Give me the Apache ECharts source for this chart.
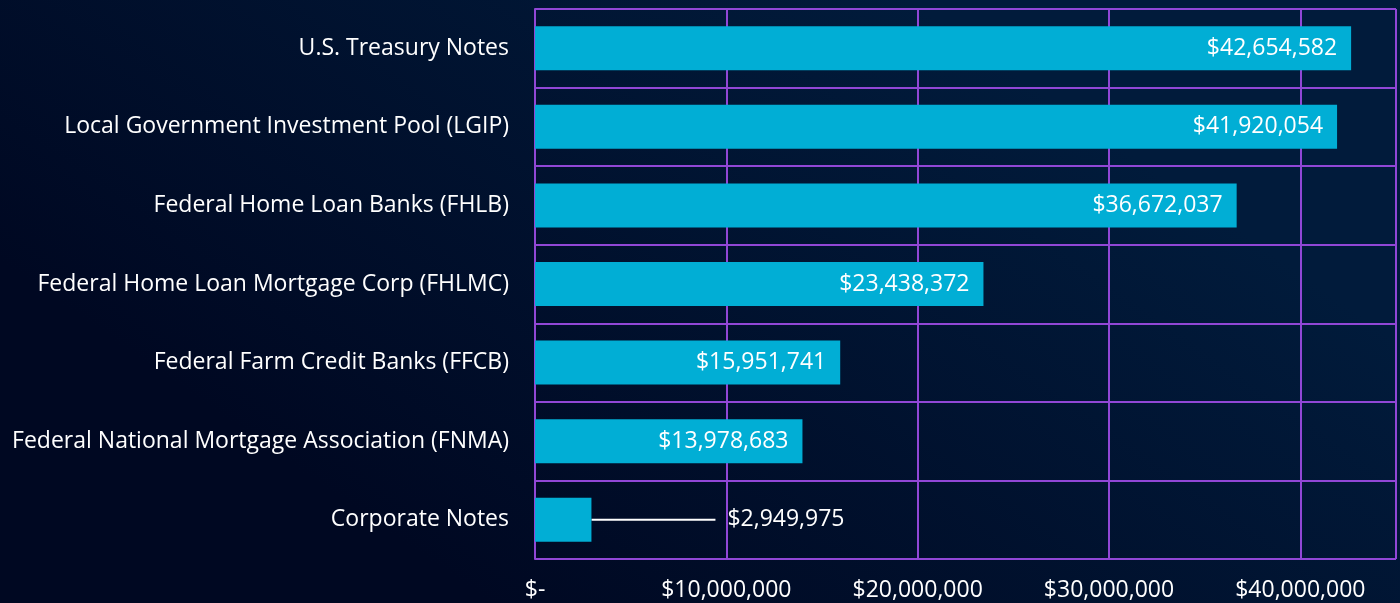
<!DOCTYPE html>
<html>
<head>
<meta charset="utf-8">
<style>
  html, body { margin: 0; padding: 0; }
  #chart { width: 1400px; height: 603px; }
</style>
<script src="https://cdn.jsdelivr.net/npm/echarts@6/dist/echarts.min.js"></script>
</head>
<body>
<div id="chart"></div>
<script>
// top to bottom as shown
const categories = [
    'U.S. Treasury Notes',
    'Local Government Investment Pool (LGIP)',
    'Federal Home Loan Banks (FHLB)',
    'Federal Home Loan Mortgage Corp (FHLMC)',
    'Federal Farm Credit Banks (FFCB)',
    'Federal National Mortgage Association (FNMA)',
    'Corporate Notes'
]
const values = [42654582, 41920054, 36672037, 23438372, 15951741, 13978683, 2949975]

const gridColor = '#9147d6'
const fmtMoney = v => '$' + v.toLocaleString('en-US')

const chart = echarts.init(document.getElementById('chart'))

const option = {
    backgroundColor: {
        type: 'linear', x: 0.65, y: 0, x2: 0.35, y2: 1,
        colorStops: [
            { offset: 0, color: '#011b3b' },
            { offset: 1, color: '#000822' }
        ]
    },
    textStyle: { fontFamily: 'Open Sans' },
    grid: { left: 535, right: 4, top: 9, bottom: 44 },
    xAxis: {
        type: 'value',
        min: 0,
        max: 45000000,
        interval: 10000000,
        axisLine: { show: false },
        axisTick: { show: false },
        splitLine: { show: true, lineStyle: { color: gridColor, width: 2 } },
        axisLabel: {
            color: '#ffffff',
            fontSize: 23,
            margin: 20,
            showMaxLabel: false,
            formatter: v => v === 0 ? '$-' : (v % 10000000 === 0 ? fmtMoney(v) : '')
        }
    },
    yAxis: {
        type: 'category',
        data: categories,
        inverse: true,
        axisLine: { show: true, lineStyle: { color: gridColor, width: 2 } },
        axisTick: { show: false },
        splitLine: { show: true, lineStyle: { color: gridColor, width: 2 } },
        axisLabel: { color: '#ffffff', fontSize: 23, margin: 26 }
    },
    series: [{
        type: 'bar',
        barCategoryGap: '44%',
        itemStyle: { color: '#01aed5' },
        label: {
            show: true,
            position: 'insideRight',
            distance: 14,
            color: '#ffffff',
            fontSize: 23,
            formatter: p => fmtMoney(p.value)
        },
        labelLayout: p => p.dataIndex === 6 ? { dx: 118 } : {},
        labelLine: { show: true, lineStyle: { color: '#ffffff', width: 2 } },
        emphasis: { disabled: true },
        // the small bar gets its label outside, with a leader line
        data: values.map((v, i) => i === 6
            ? { value: v, label: { position: 'right', distance: 6, formatter: p => '  ' + fmtMoney(p.value) } }
            : v)
    }]
}

chart.setOption(option)

window.addEventListener('resize', () => chart.resize())
</script>
</body>
</html>
